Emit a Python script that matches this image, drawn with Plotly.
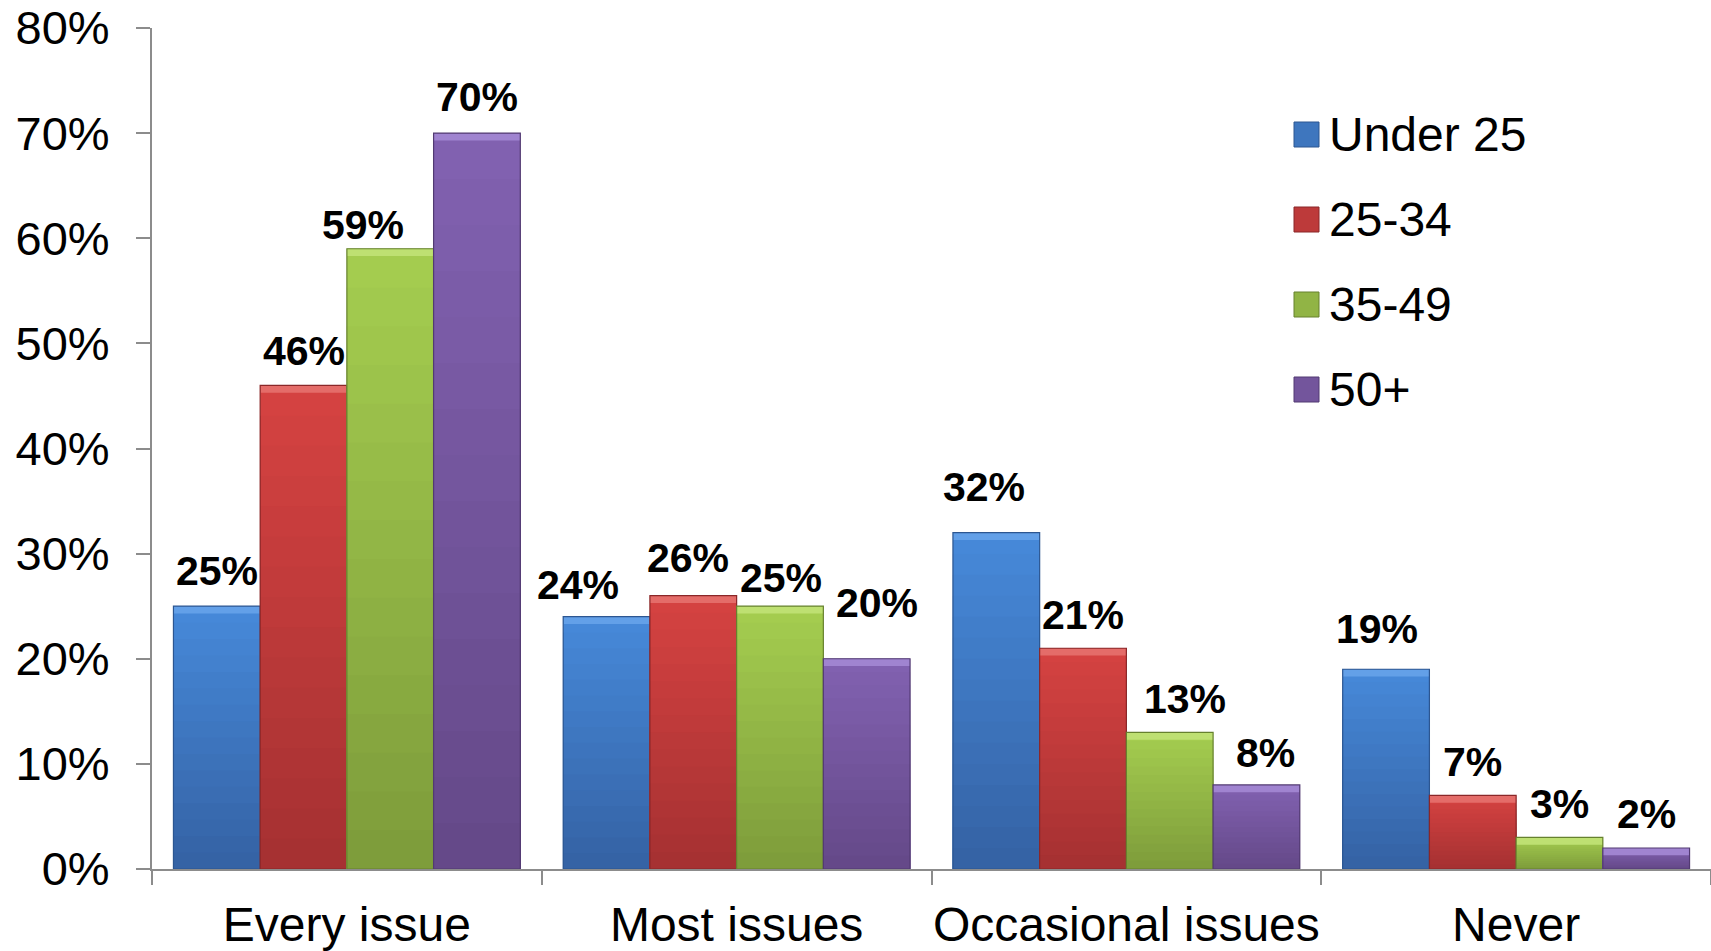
import plotly.graph_objects as go

# Survey responses by age band
categories = ["Every issue", "Most issues", "Occasional issues", "Never"]
series_names = ["Under 25", "25-34", "35-49", "50+"]
under_25 = [25, 24, 32, 19]
age_25_34 = [46, 26, 21, 7]
age_35_49 = [59, 25, 13, 3]
age_50_plus = [70, 20, 8, 2]
y_ticks = [0, 10, 20, 30, 40, 50, 60, 70, 80]
y_tick_labels = ["0%", "10%", "20%", "30%", "40%", "50%", "60%", "70%", "80%"]

series_values = [under_25, age_25_34, age_35_49, age_50_plus]

# top colour, bottom colour, edge colour, bevel highlight
palette = [
    ("#4688D8", "#3563A5", "#2C5691", "#63A0E8"),
    ("#D44241", "#A63132", "#8A2728", "#E46C69"),
    ("#A4CC4F", "#7E9D3B", "#66812E", "#BEE072"),
    ("#8161B0", "#654989", "#523A72", "#A084D0"),
]

# per-label nudges in pixels (dx, dy), same layout as the value lists
label_nudge = [
    [(0, 2), (0, 1), (-27, -9), (0, 3)],
    [(-29, -1), (-5, 5), (1, -5), (10, 23)],
    [(-12, 13), (0, 0), (15, 0), (9, -1)],
    [(-9, 7), (0, 0), (0, 0), (0, 1)],
]

FONT = "Liberation Sans, Arial, sans-serif"
BARGAP = 0.11
BEVEL = 0.7      # height of the lighter top strip, in axis units
LAYERS = 16      # steps of the vertical shading


def mix(c1, c2, t):
    a = [int(c1[k:k + 2], 16) for k in (1, 3, 5)]
    b = [int(c2[k:k + 2], 16) for k in (1, 3, 5)]
    return "#" + "".join(f"{round(x + (y - x) * t):02X}" for x, y in zip(a, b))


fig = go.Figure()

for j, (name, vals) in enumerate(zip(series_names, series_values)):
    top, bottom, edge, light = palette[j]
    # full bar in the top colour
    fig.add_trace(go.Bar(
        name=name, x=categories, y=vals, offsetgroup=str(j),
        marker=dict(color=top, line=dict(width=0)),
        showlegend=False,
    ))
    # progressively shorter overlays shade the bar darker towards the base
    for k in range(1, LAYERS):
        frac = (LAYERS - k) / LAYERS
        fig.add_trace(go.Bar(
            x=categories, y=[v * frac for v in vals], offsetgroup=str(j),
            hoverinfo="skip", showlegend=False,
            marker=dict(color=mix(top, bottom, k / (LAYERS - 1)),
                        line=dict(width=0)),
        ))
    # bevel strip on the top of each bar
    fig.add_trace(go.Bar(
        x=categories, y=[BEVEL] * len(vals), base=[v - BEVEL for v in vals],
        offsetgroup=str(j), hoverinfo="skip", showlegend=False,
        marker=dict(color=light, line=dict(width=0)),
    ))
    # outline drawn on top of the shading
    fig.add_trace(go.Bar(
        x=categories, y=vals, offsetgroup=str(j),
        hoverinfo="skip", showlegend=False,
        marker=dict(color="rgba(0,0,0,0)", line=dict(color=edge, width=1.2)),
    ))

# value labels above bars
bar_w = (1 - BARGAP) / len(series_names)
annotations = []
for j, vals in enumerate(series_values):
    for i, v in enumerate(vals):
        dx, dy = label_nudge[i][j]
        annotations.append(dict(
            x=i + (j - 1.5) * bar_w, y=v, xref="x", yref="y",
            text=f"<b>{v}%</b>", showarrow=False,
            xanchor="center", yanchor="bottom",
            xshift=dx, yshift=8 + dy,
            font=dict(family=FONT, size=41, color="black"),
        ))

# legend drawn as swatches plus labels
shapes = []
PLOT_L, PLOT_W, PLOT_B, PLOT_H = 152, 1559, 869, 841
for j, name in enumerate(series_names):
    top, bottom, edge, light = palette[j]
    cy = 134.5 + j * 85
    shapes.append(dict(
        type="rect", xref="paper", yref="paper",
        x0=(1294 - PLOT_L) / PLOT_W, x1=(1319 - PLOT_L) / PLOT_W,
        y0=(PLOT_B - (cy + 12.5)) / PLOT_H, y1=(PLOT_B - (cy - 12.5)) / PLOT_H,
        fillcolor=mix(top, bottom, 0.5), line=dict(color=edge, width=1),
    ))
    annotations.append(dict(
        x=(1327 - PLOT_L) / PLOT_W, y=(PLOT_B - cy) / PLOT_H,
        xref="paper", yref="paper", text=name, showarrow=False,
        xanchor="left", yanchor="middle",
        font=dict(family=FONT, size=48, color="black"),
    ))

fig.update_layout(
    width=1711, height=951,
    margin=dict(l=152, r=0, t=28, b=82),
    paper_bgcolor="white", plot_bgcolor="white",
    barmode="group", bargap=BARGAP, bargroupgap=0,
    font=dict(family=FONT, color="black"),
    annotations=annotations, shapes=shapes,
    showlegend=False,
)

fig.update_xaxes(
    type="category", showgrid=False, zeroline=False,
    showline=True, linecolor="#8C8C8C", linewidth=2,
    ticks="outside", tickson="boundaries", ticklen=14,
    tickcolor="#8C8C8C", tickwidth=2, tickangle=0,
    tickfont=dict(family=FONT, size=48, color="black"),
    ticklabelstandoff=12, automargin=False,
)
fig.update_yaxes(
    range=[0, 80], tickvals=y_ticks, ticktext=y_tick_labels,
    showgrid=False, zeroline=False,
    showline=True, linecolor="#8C8C8C", linewidth=2,
    ticks="outside", ticklen=14, tickcolor="#8C8C8C", tickwidth=2,
    tickfont=dict(family=FONT, size=47, color="black"),
    ticklabelstandoff=17, automargin=False,
)

fig.write_html("out.html")
